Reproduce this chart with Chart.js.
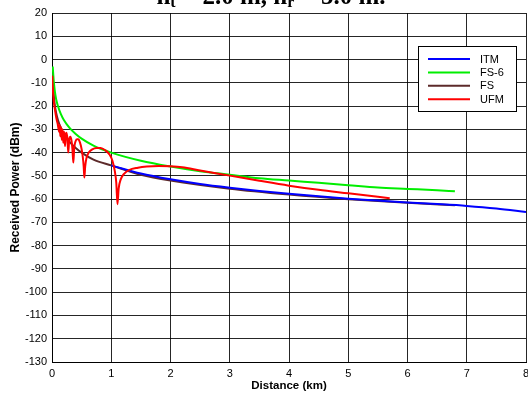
<!DOCTYPE html>
<html>
<head>
<meta charset="utf-8">
<script src="https://cdn.jsdelivr.net/npm/chart.js@4.4.1/dist/chart.umd.min.js"></script>
<style>
  html, body { margin: 0; padding: 0; background: #fff; }
  #wrap { width: 528px; height: 394px; }
</style>
</head>
<body>
<div id="wrap"><canvas id="powerChart" width="528" height="394"></canvas></div>
<script>
// distance in km, received power in dBm
const itmDist = [1, 1.5, 2, 2.5, 3, 3.5, 4, 4.5, 5, 5.5, 6, 6.5, 7, 7.5, 8];
const itmPower = [-45.5, -49, -51.5, -53.5, -55.1, -56.5, -57.7, -58.8, -59.8, -60.6, -61.4, -62.1, -62.9, -64, -65.5];

const fs6Dist = [0.012, 0.02, 0.03, 0.05, 0.07, 0.1, 0.15, 0.2, 0.3, 0.4, 0.5, 0.7, 1, 1.5, 2, 2.5, 3, 3.5, 4, 4.5, 5, 5.5, 6, 6.5, 6.8];
const fs6Power = [-3, -6, -9.5, -14, -17, -20, -23.5, -26, -29.5, -32, -34, -37, -40, -43.5, -46, -48, -49.5, -51, -52, -53, -54, -55, -55.6, -56.2, -56.6];

const fsDist = [0.01, 0.02, 0.03, 0.05, 0.07, 0.1, 0.15, 0.2, 0.3, 0.4, 0.5, 0.7, 1, 1.5, 2, 3, 4, 5, 6, 6.8];
const fsPower = [-6, -12, -15.5, -20, -23, -26, -29.5, -32, -35.5, -38, -40, -43, -45.5, -49.5, -52, -55.5, -58, -60, -61.6, -62.6];

const ufmDist = [0.005, 0.01, 0.02, 0.035, 0.05, 0.065, 0.08, 0.095, 0.105, 0.12, 0.13, 0.14, 0.152, 0.165, 0.178, 0.19,
  0.205, 0.22, 0.232, 0.245, 0.26, 0.275, 0.29, 0.31, 0.33, 0.345, 0.36, 0.375, 0.4, 0.425, 0.445, 0.47, 0.5, 0.52, 0.535,
  0.546, 0.56, 0.58, 0.62, 0.68, 0.75, 0.82, 0.9, 0.97, 1.02, 1.06, 1.085, 1.105, 1.125, 1.16, 1.22, 1.3, 1.45, 1.6, 1.8,
  2.0, 2.2, 2.5, 3.0, 3.5, 4.0, 4.5, 5.0, 5.5, 5.7];
const ufmPower = [-7, -10.5, -15, -19, -21.5, -24, -26, -27.5, -29, -31, -28, -33, -29, -34.5, -30, -35.8,
  -31, -37.2, -32.5, -31.5, -34, -40, -34.5, -33.2, -35, -38.5, -44.3, -38, -35, -34.3, -34.3, -35.5, -38.5, -42, -46,
  -50.7, -46, -42.5, -40, -38.6, -38, -38, -39, -40.8, -43.5, -48, -53, -62.2, -55.5, -51.5, -49, -47.5, -46.5, -46, -45.8,
  -45.9, -46.3, -47.7, -49.9, -52.1, -54.2, -56, -57.5, -59, -59.6];

const seriesNames = ['ITM', 'FS-6', 'FS', 'UFM'];
const seriesColors = ['#0000ff', '#00ee00', '#5c2a2a', '#ff0000'];

const xTicks = [0, 1, 2, 3, 4, 5, 6, 7, 8];
const yTicks = [20, 10, 0, -10, -20, -30, -40, -50, -60, -70, -80, -90, -100, -110, -120, -130];

function points(xs, ys) {
  return xs.map((x, i) => ({ x: x, y: ys[i] }));
}

// heading along the top edge, partly outside the canvas
const headingPlugin = {
  id: 'heading',
  afterDraw(chart) {
    const ctx = chart.ctx;
    const parts = [
      ['h', 0], ['t', 1], [' = 2.0 m, h', 0], ['r', 1], [' = 5.0 m.', 0]
    ];
    const big = 'bold 25px "Liberation Serif", "Times New Roman", serif';
    const small = 'bold 16px "Liberation Serif", "Times New Roman", serif';
    ctx.save();
    ctx.fillStyle = '#000';
    ctx.textBaseline = 'alphabetic';
    let total = 0;
    parts.forEach(p => { ctx.font = p[1] ? small : big; total += ctx.measureText(p[0]).width; });
    let x = 271 - total / 2;
    parts.forEach(p => {
      ctx.font = p[1] ? small : big;
      ctx.fillText(p[0], x, p[1] ? 7 : 4);
      x += ctx.measureText(p[0]).width;
    });
    ctx.restore();
  }
};

// boxed legend inside the plot, upper right
const boxLegendPlugin = {
  id: 'boxLegend',
  afterDatasetsDraw(chart) {
    const ctx = chart.ctx;
    const bx = 418.5, by = 46.5, bw = 98, bh = 65;
    ctx.save();
    ctx.fillStyle = '#fff';
    ctx.fillRect(bx, by, bw, bh);
    ctx.strokeStyle = '#000';
    ctx.lineWidth = 1;
    ctx.strokeRect(bx, by, bw, bh);
    ctx.font = '11px "Liberation Sans", Arial, sans-serif';
    ctx.textBaseline = 'middle';
    ctx.fillStyle = '#000';
    seriesNames.forEach((name, i) => {
      const y = 59 + i * 13.4;
      ctx.strokeStyle = seriesColors[i];
      ctx.lineWidth = 2;
      ctx.beginPath();
      ctx.moveTo(428, y);
      ctx.lineTo(470, y);
      ctx.stroke();
      ctx.fillText(name, 480, y + 0.5);
    });
    ctx.restore();
  }
};

const allDist = [itmDist, fs6Dist, fsDist, ufmDist];
const allPower = [itmPower, fs6Power, fsPower, ufmPower];
const drawOrder = [1, 2, 3, 0];

const datasets = seriesNames.map((name, i) => ({
  label: name,
  data: points(allDist[i], allPower[i]),
  borderColor: seriesColors[i],
  backgroundColor: seriesColors[i],
  borderWidth: 2,
  pointRadius: 0,
  fill: false,
  cubicInterpolationMode: 'monotone',
  order: drawOrder[i]
}));

const gridColor = 'rgba(0,0,0,0.85)';

new Chart(document.getElementById('powerChart').getContext('2d'), {
  type: 'line',
  data: { datasets: datasets },
  options: {
    responsive: false,
    animation: false,
    devicePixelRatio: 1,
    layout: { padding: { top: 13, right: 2, left: 0, bottom: 0 } },
    plugins: {
      legend: { display: false },
      title: { display: false },
      tooltip: { enabled: false }
    },
    scales: {
      x: {
        type: 'linear',
        min: 0,
        max: 8,
        afterBuildTicks(scale) { scale.ticks = xTicks.map(v => ({ value: v })); },
        afterFit(scale) {
          scale.height = 32;
          scale.paddingLeft = 0;
          scale.paddingRight = 0;
        },
        ticks: {
          padding: 5,
          color: '#000',
          maxRotation: 0,
          font: { family: '"Liberation Sans", Arial, sans-serif', size: 11 }
        },
        grid: { color: gridColor, lineWidth: 1, drawTicks: false },
        border: { color: '#000', width: 1 },
        title: {
          display: true,
          text: 'Distance (km)',
          color: '#000',
          padding: { top: 0, bottom: 1 },
          font: { family: '"Liberation Sans", Arial, sans-serif', size: 11.5, weight: 'bold' }
        }
      },
      y: {
        type: 'linear',
        min: -130,
        max: 20,
        afterBuildTicks(scale) { scale.ticks = yTicks.map(v => ({ value: v })); },
        afterFit(scale) {
          scale.width = 52;
          scale.paddingTop = 0;
          scale.paddingBottom = 0;
        },
        ticks: {
          padding: 5,
          color: '#000',
          font: { family: '"Liberation Sans", Arial, sans-serif', size: 11 }
        },
        grid: { color: gridColor, lineWidth: 1, drawTicks: false },
        border: { color: '#000', width: 1 },
        title: {
          display: true,
          text: 'Received Power (dBm)',
          color: '#000',
          padding: { top: 8, bottom: 0 },
          font: { family: '"Liberation Sans", Arial, sans-serif', size: 12, weight: 'bold' }
        }
      }
    }
  },
  plugins: [headingPlugin, boxLegendPlugin]
});
</script>
</body>
</html>
